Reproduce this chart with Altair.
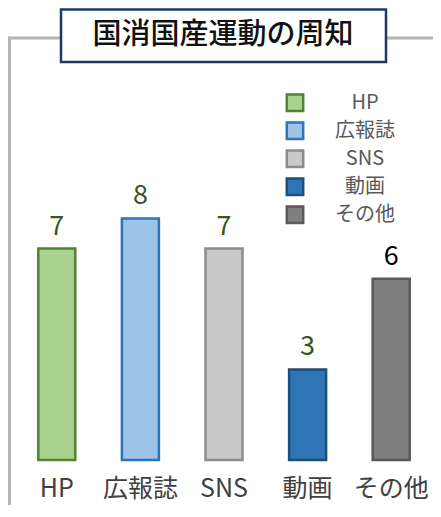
import altair as alt
import pandas as pd

# ---- data ----
title_text = "国消国産運動の周知"
categories = ["HP", "広報誌", "SNS", "動画", "その他"]
values = [7, 8, 7, 3, 6]
fill_colors = ["#a9d18e", "#9dc3e6", "#c9c9c9", "#2e75b6", "#7f7f7f"]
stroke_colors = ["#548235", "#2e75b6", "#8c8c8c", "#1f4e79", "#595959"]

FONT = "Noto Sans CJK JP"

df = pd.DataFrame({"category": categories, "value": values})
decor = pd.DataFrame({"k": [0]})

x_enc = alt.X(
    "category:N", sort=categories, axis=None,
    scale=alt.Scale(domain=categories, range=[7, 425], paddingInner=0, paddingOuter=0),
)
y_enc = alt.Y("value:Q", axis=None,
              scale=alt.Scale(domain=[0, 10], range=[452, 150], nice=False, zero=True))

legend_kw = dict(
    orient="none", legendX=277, legendY=81, title=None,
    symbolType="square", symbolSize=270, symbolStrokeWidth=2.5, symbolOpacity=1,
    labelFont=FONT, labelFontSize=20, labelColor="#595959",
    labelAlign="center", labelOffset=60, rowPadding=0, clipHeight=27.5, padding=0,
)

bars = alt.Chart(df).mark_bar(size=37, strokeWidth=2.5).encode(
    x=x_enc,
    y=y_enc,
    fill=alt.Fill("category:N", sort=categories,
                  scale=alt.Scale(domain=categories, range=fill_colors),
                  legend=alt.Legend(**legend_kw)),
    stroke=alt.Stroke("category:N", sort=categories,
                      scale=alt.Scale(domain=categories, range=stroke_colors),
                      legend=alt.Legend(**legend_kw)),
)

value_labels = alt.Chart(df).mark_text(
    font=FONT, fontSize=27, baseline="alphabetic", dy=-14
).encode(
    x=x_enc,
    y=y_enc,
    text=alt.Text("value:Q"),
    color=alt.condition(alt.datum.category == "その他",
                        alt.value("#000000"), alt.value("#375623")),
)

x_labels = alt.Chart(df).mark_text(
    font=FONT, fontSize=25, baseline="alphabetic", color="#404040"
).encode(
    x=x_enc,
    y=alt.value(489),
    text=alt.Text("category:N"),
)

rule_left = alt.Chart(decor).mark_rule(color="#b4b4b4", strokeWidth=3).encode(
    x=alt.value(0), x2=alt.value(53), y=alt.value(30))
rule_right = alt.Chart(decor).mark_rule(color="#b4b4b4", strokeWidth=3).encode(
    x=alt.value(378), x2=alt.value(425), y=alt.value(30))
rule_vert = alt.Chart(decor).mark_rule(color="#b4b4b4", strokeWidth=3).encode(
    x=alt.value(1.5), y=alt.value(28.5), y2=alt.value(497))

box = alt.Chart(decor).mark_rect(fill="white", stroke="#203864", strokeWidth=2.5).encode(
    x=alt.value(53), x2=alt.value(378), y=alt.value(1.5), y2=alt.value(54))

title = alt.Chart(decor).mark_text(
    font=FONT, fontSize=29, fontWeight=500, color="#111111", baseline="middle"
).encode(x=alt.value(215), y=alt.value(27), text=alt.value(title_text))

chart = alt.layer(
    rule_left, rule_right, rule_vert, box, title, bars, value_labels, x_labels
).properties(
    width=425, height=497, autosize="none", padding=0
).configure_view(stroke=None)

chart.save("out.html", embed_options={"renderer": "svg", "actions": False})
